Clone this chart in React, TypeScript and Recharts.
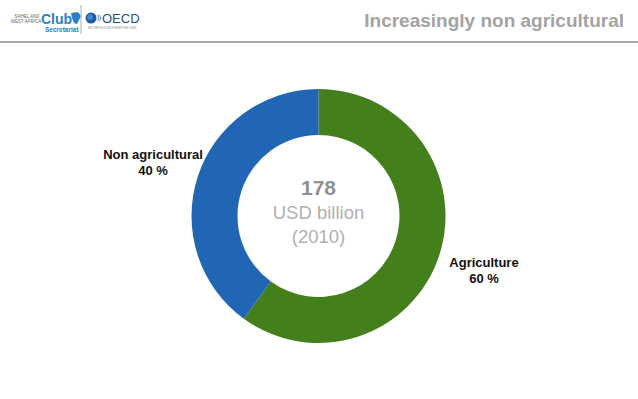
import { Cell, Pie, PieChart } from 'recharts'

const categories = ['Agriculture', 'Non agricultural']
const shares = [60, 40]
const colors = ['#43801c', '#2166b4']

const total = '178'
const unit = 'USD billion'
const year = '(2010)'
const title = 'Increasingly non agricultural'

const data = categories.map((name, i) => ({ name, value: shares[i] }))

const RADIAN = Math.PI / 180
const font = '"Liberation Sans", Arial, Helvetica, sans-serif'

function SliceLabel(props: any) {
  const { cx, cy, midAngle, outerRadius, name, value } = props
  const r = outerRadius + 47
  const x = cx + r * Math.cos(-midAngle * RADIAN)
  const y = cy + r * Math.sin(-midAngle * RADIAN)
  return (
    <text
      x={x}
      y={y}
      textAnchor="middle"
      fontFamily={font}
      fontSize={13}
      fontWeight="bold"
      fill="#111"
    >
      <tspan x={x} dy={-3}>{name}</tspan>
      <tspan x={x} dy={16}>{value} %</tspan>
    </text>
  )
}

function Header() {
  return (
    <svg
      width={638}
      height={399}
      style={{ position: 'absolute', left: 0, top: 0, pointerEvents: 'none' }}
    >
      {/* logo */}
      <text x={27} y={18} fontFamily={font} fontSize={4.5} fill="#666" textAnchor="middle">SAHEL AND</text>
      <text x={26} y={23} fontFamily={font} fontSize={4.5} fill="#666" textAnchor="middle">WEST AFRICA</text>
      <text x={41} y={24} fontFamily={font} fontSize={14} fontWeight="bold" fill="#2a7fc8">Club</text>
      <path d="M71 13 L78 12 L81 16 L79 20 L77 24 L74 23 L72 18 Z" fill="#2a7fc8" />
      <text x={45} y={32} fontFamily={font} fontSize={6.5} fontWeight="bold" fill="#2a7fc8">Secretariat</text>
      <line x1={81} y1={5} x2={81} y2={34} stroke="#999" strokeWidth={0.8} />
      <circle cx={91} cy={18} r={5.5} fill="#1f5aa0" />
      <circle cx={90} cy={17} r={3} fill="#3d8bd0" />
      <path d="M97.5 15 L99 18 L97.5 21 M99.5 15 L101 18 L99.5 21" stroke="#2c6db5" strokeWidth={0.8} fill="none" />
      <text x={102} y={23} fontFamily={font} fontSize={13} fill="#2b4f86">OECD</text>
      <text x={88} y={29} fontFamily={font} fontSize={2.6} fill="#888">BETTER POLICIES FOR BETTER LIVES</text>

      <text
        x={624}
        y={27}
        textAnchor="end"
        fontFamily={font}
        fontSize={19}
        fontWeight="bold"
        fill="#a3a3a3"
      >
        {title}
      </text>
      <line x1={0} y1={42} x2={638} y2={42} stroke="#a8a8a8" strokeWidth={2} />

      <text x={318.5} y={195} textAnchor="middle" fontFamily={font} fontSize={21} fontWeight="bold" fill="#8f8f8f">{total}</text>
      <text x={318.5} y={219} textAnchor="middle" fontFamily={font} fontSize={18.5} fill="#b0b0b0">{unit}</text>
      <text x={318.5} y={243} textAnchor="middle" fontFamily={font} fontSize={18.5} fill="#b0b0b0">{year}</text>
    </svg>
  )
}

export default function App() {
  return (
    <div
      style={{
        position: 'absolute',
        left: 0,
        top: 0,
        width: 638,
        height: 399,
        background: '#fff',
      }}
    >
      <PieChart width={638} height={399} margin={{ top: 0, right: 0, bottom: 0, left: 0 }}>
        <Pie
          data={data}
          dataKey="value"
          nameKey="name"
          cx={318.5}
          cy={216}
          innerRadius={81}
          outerRadius={127}
          startAngle={90}
          endAngle={-270}
          stroke="none"
          label={SliceLabel}
          labelLine={false}
          isAnimationActive={false}
        >
          {data.map((d, i) => (
            <Cell key={d.name} fill={colors[i]} />
          ))}
        </Pie>
      </PieChart>
      <Header />
    </div>
  )
}
